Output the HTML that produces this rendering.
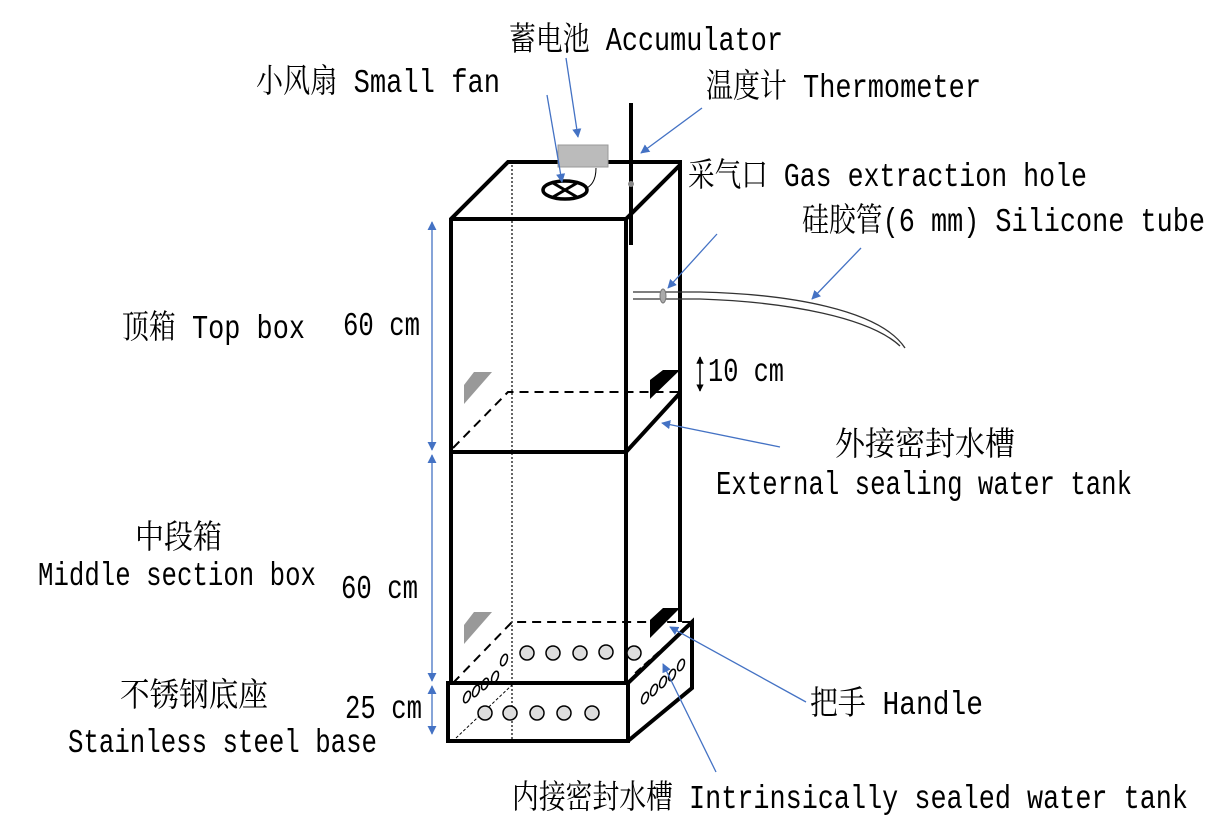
<!DOCTYPE html>
<html><head><meta charset="utf-8"><style>
html,body{margin:0;padding:0;background:#fff;}
svg{display:block}
text{font-family:"Liberation Mono","Noto Serif CJK SC",monospace;font-size:33px;fill:#000}
</style></head><body>
<svg width="1224" height="838" viewBox="0 0 1224 838" xmlns="http://www.w3.org/2000/svg">
<defs>
<marker id="a" viewBox="0 0 10 10" refX="9" refY="5" markerWidth="7" markerHeight="7" orient="auto-start-reverse"><path d="M0,0 L10,5 L0,10 z" fill="#4472c4"/></marker>
<marker id="k" viewBox="0 0 10 10" refX="9" refY="5" markerWidth="5" markerHeight="5" orient="auto-start-reverse"><path d="M0,0 L10,5 L0,10 z" fill="#000"/></marker>
</defs>
<line x1="512" y1="165" x2="512" y2="740" stroke="#000" stroke-width="1.2" stroke-dasharray="2,2"/>
<g stroke="#000" stroke-width="4" fill="none">
<polyline points="451,452 451,219 508,162 680,162 680,393 626,452"/>
<line x1="451" y1="219" x2="626" y2="219"/>
<line x1="626" y1="219" x2="680" y2="165"/>
<line x1="626" y1="219" x2="626" y2="683"/>
<line x1="451" y1="452" x2="626" y2="452"/>
<line x1="451" y1="452" x2="451" y2="683"/>
<line x1="680" y1="393" x2="680" y2="622"/>
</g>
<g stroke="#000" stroke-width="2" fill="none" stroke-dasharray="9,6">
<polyline points="453,448 508,392 680,392"/>
<polyline points="453,683 512,622 690,622"/>
</g>
<line x1="626" y1="450" x2="680" y2="395" stroke="#000" stroke-width="1" stroke-dasharray="2,2"/>
<g stroke="#000" stroke-width="4" fill="none">
<rect x="448" y="683" width="180" height="58"/>
<polyline points="628,683 692,622 692,688 628,741"/>
</g>
<line x1="456" y1="738" x2="512" y2="685" stroke="#000" stroke-width="1" stroke-dasharray="3,2"/>
<line x1="635" y1="673" x2="683" y2="630" stroke="#000" stroke-width="1.5" stroke-dasharray="8,4"/>
<g fill="#ddd" stroke="#000" stroke-width="1.5">
<circle cx="485" cy="713" r="7"/><circle cx="510" cy="713" r="7"/><circle cx="537" cy="713" r="7"/><circle cx="564" cy="713" r="7"/><circle cx="592" cy="713" r="7"/>
<circle cx="527" cy="653" r="7"/><circle cx="553" cy="653" r="7"/><circle cx="580" cy="653" r="7"/><circle cx="606" cy="652" r="7"/><circle cx="634" cy="653" r="7"/>
</g>
<g fill="none" stroke="#000" stroke-width="1.5">
<ellipse cx="467" cy="697" rx="3" ry="6" transform="rotate(20 467 697)"/><ellipse cx="476" cy="691" rx="3" ry="6" transform="rotate(20 476 691)"/><ellipse cx="485" cy="684" rx="3" ry="6" transform="rotate(20 485 684)"/><ellipse cx="495" cy="677" rx="3" ry="6" transform="rotate(20 495 677)"/><ellipse cx="504" cy="660" rx="3" ry="6" transform="rotate(20 504 660)"/>
<ellipse cx="645" cy="698" rx="3" ry="6" transform="rotate(20 645 698)"/><ellipse cx="654" cy="690" rx="3" ry="6" transform="rotate(20 654 690)"/><ellipse cx="663" cy="682" rx="3" ry="6" transform="rotate(20 663 682)"/><ellipse cx="672" cy="675" rx="3" ry="6" transform="rotate(20 672 675)"/><ellipse cx="681" cy="665" rx="3" ry="6" transform="rotate(20 681 665)"/>
</g>
<polygon points="464,385 474,372 492,372 464,404" fill="#999"/>
<polygon points="464,625 474,612 492,612 464,644" fill="#999"/>
<polygon points="650,380 663,370 680,370 650,399" fill="#000"/>
<polygon points="650,620 663,608 680,608 650,638" fill="#000"/>
<rect x="558" y="145" width="50" height="22" fill="#bbb" stroke="#999"/>
<path d="M596,168 C596,182 590,186 587,188" fill="none" stroke="#000" stroke-width="1"/>
<ellipse cx="565" cy="190" rx="22" ry="9" fill="none" stroke="#000" stroke-width="3.5"/>
<line x1="553" y1="183" x2="577" y2="197" stroke="#000" stroke-width="3"/><line x1="553" y1="197" x2="577" y2="183" stroke="#000" stroke-width="3"/>
<line x1="631" y1="103" x2="631" y2="245" stroke="#000" stroke-width="4"/>
<ellipse cx="631" cy="184" rx="3" ry="3" fill="#888"/>
<path d="M633,292 L700,292 C790,294 880,310 905,348" fill="none" stroke="#333" stroke-width="1.3"/>
<path d="M633,299 L700,299 C790,302 870,318 900,346" fill="none" stroke="#333" stroke-width="1.3"/>
<ellipse cx="663" cy="296" rx="3" ry="7" fill="#aaa" stroke="#777"/>
<line x1="700" y1="357" x2="700" y2="391" stroke="#000" stroke-width="1.5" marker-start="url(#k)" marker-end="url(#k)"/>
<g stroke="#4472c4" stroke-width="1.3" fill="none">
<line x1="432" y1="222" x2="432" y2="450" marker-start="url(#a)" marker-end="url(#a)"/>
<line x1="432" y1="455" x2="432" y2="681" marker-start="url(#a)" marker-end="url(#a)"/>
<line x1="432" y1="686" x2="432" y2="734" marker-start="url(#a)" marker-end="url(#a)"/>
<line x1="566" y1="58" x2="578" y2="137" marker-end="url(#a)"/>
<line x1="547" y1="95" x2="562" y2="182" marker-end="url(#a)"/>
<line x1="702" y1="108" x2="641" y2="153" marker-end="url(#a)"/>
<line x1="717" y1="234" x2="668" y2="288" marker-end="url(#a)"/>
<line x1="861" y1="248" x2="812" y2="299" marker-end="url(#a)"/>
<line x1="780" y1="447" x2="662" y2="423" marker-end="url(#a)"/>
<line x1="806" y1="702" x2="670" y2="627" marker-end="url(#a)"/>
<line x1="716" y1="772" x2="663" y2="664" marker-end="url(#a)"/>
</g>
<text x="509" y="50" textLength="274" lengthAdjust="spacingAndGlyphs">蓄电池 Accumulator</text>
<text x="256" y="92" textLength="244" lengthAdjust="spacingAndGlyphs">小风扇 Small fan</text>
<text x="706" y="97" textLength="275" lengthAdjust="spacingAndGlyphs">温度计 Thermometer</text>
<text x="688" y="186" textLength="399" lengthAdjust="spacingAndGlyphs">采气口 Gas extraction hole</text>
<text x="802" y="231" textLength="403" lengthAdjust="spacingAndGlyphs">硅胶管(6 mm) Silicone tube</text>
<text x="122" y="338" textLength="183" lengthAdjust="spacingAndGlyphs">顶箱 Top box</text>
<text x="343" y="335" textLength="77" lengthAdjust="spacingAndGlyphs">60 cm</text>
<text x="708" y="381" textLength="76" lengthAdjust="spacingAndGlyphs">10 cm</text>
<text x="835" y="455" textLength="180" lengthAdjust="spacingAndGlyphs">外接密封水槽</text>
<text x="716" y="494" textLength="416" lengthAdjust="spacingAndGlyphs">External sealing water tank</text>
<text x="135" y="548" textLength="87" lengthAdjust="spacingAndGlyphs">中段箱</text>
<text x="38" y="585" textLength="278" lengthAdjust="spacingAndGlyphs">Middle section box</text>
<text x="341" y="598" textLength="77" lengthAdjust="spacingAndGlyphs">60 cm</text>
<text x="120" y="706" textLength="148" lengthAdjust="spacingAndGlyphs">不锈钢底座</text>
<text x="345" y="718" textLength="77" lengthAdjust="spacingAndGlyphs">25 cm</text>
<text x="68" y="752" textLength="309" lengthAdjust="spacingAndGlyphs">Stainless steel base</text>
<text x="810" y="714" textLength="173" lengthAdjust="spacingAndGlyphs">把手 Handle</text>
<text x="512" y="808" textLength="676" lengthAdjust="spacingAndGlyphs">内接密封水槽 Intrinsically sealed water tank</text>
</svg>
</body></html>
